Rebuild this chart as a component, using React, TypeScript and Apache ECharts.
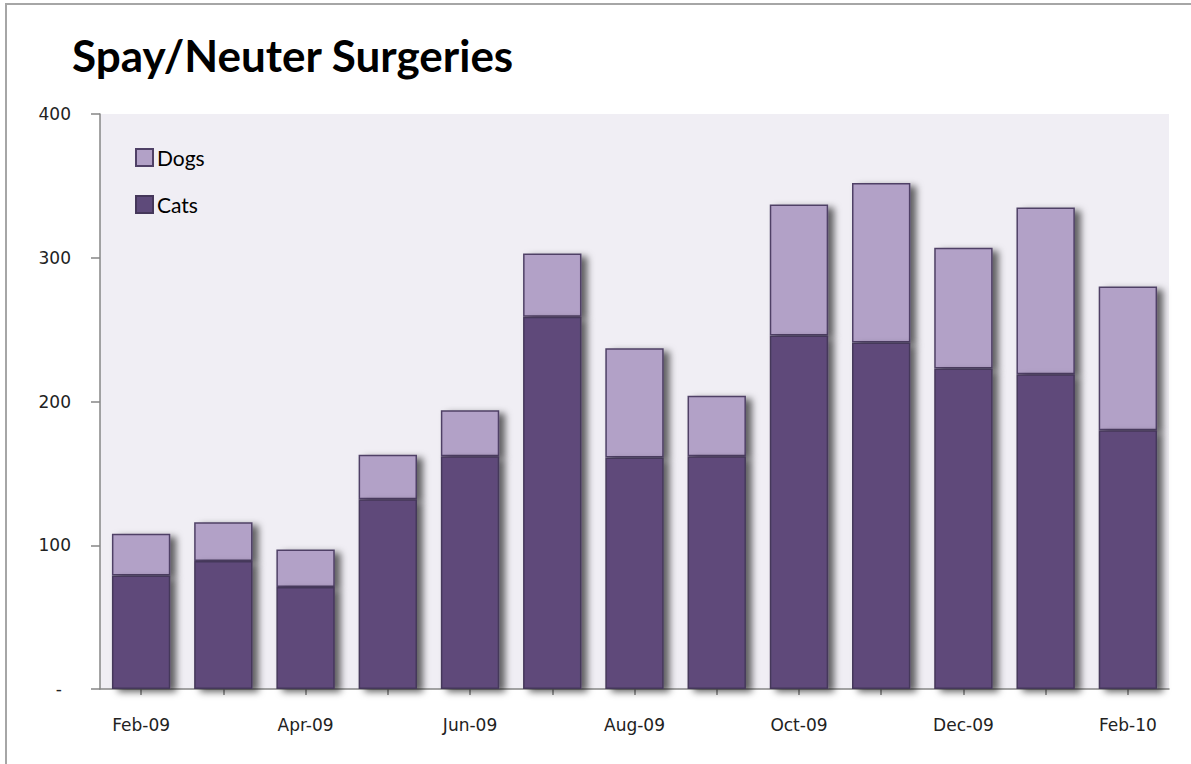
import React, { useEffect, useRef } from "react";
import * as echarts from "echarts";

const months = ["Feb-09", "Mar-09", "Apr-09", "May-09", "Jun-09", "Jul-09", "Aug-09", "Sep-09", "Oct-09", "Nov-09", "Dec-09", "Jan-10", "Feb-10"];
const cats = [79, 89, 71, 132, 162, 259, 161, 162, 246, 241, 223, 219, 180];
const dogs = [29, 27, 26, 31, 32, 44, 76, 42, 91, 111, 84, 116, 100];
const yTicks = [0, 100, 200, 300, 400];

export default function App() {
  const ref = useRef<HTMLDivElement>(null);
  useEffect(() => {
    if (!ref.current) return;
    const chart = echarts.init(ref.current, undefined, { renderer: "svg" });
    const shadow = {
      shadowColor: "rgba(0,0,0,0.6)",
      shadowBlur: 7,
      shadowOffsetX: 6,
      shadowOffsetY: 3,
    };
    chart.setOption({
      animation: false,
      backgroundColor: "#ffffff",
      title: {
        text: "Spay/Neuter Surgeries",
        left: 72,
        top: 33,
        padding: 0,
        textStyle: { fontFamily: "Lato", fontWeight: "bold", fontSize: 44, color: "#000" },
      },
      legend: {
        data: ["Dogs", "Cats"],
        orient: "vertical",
        left: 135,
        top: 147,
        padding: 0,
        itemWidth: 17,
        itemHeight: 17,
        itemGap: 26,
        icon: "rect",
        textStyle: { fontFamily: "Lato", fontSize: 21, color: "#000", padding: [0, 0, 0, -1] },
      },
      grid: {
        left: 100,
        right: 22,
        top: 114,
        bottom: 75,
        show: true,
        backgroundColor: "#f0eef4",
        borderWidth: 0,
      },
      graphic: [
        {
          type: "rect",
          shape: { x: 6, y: 4, width: 1400, height: 1000 },
          style: { fill: "none", stroke: "#a6a6a6", lineWidth: 2 },
          silent: true,
        },
      ],
      xAxis: {
        type: "category",
        data: months,
        axisLine: { lineStyle: { color: "#868686", width: 1.5 } },
        axisTick: { show: true, alignWithLabel: true, interval: 0, length: 6, lineStyle: { color: "#868686", width: 1.5 } },
        axisLabel: {
          interval: 1,
          margin: 27,
          fontFamily: "DejaVu Sans",
          fontSize: 17,
          color: "#222",
        },
      },
      yAxis: {
        type: "value",
        min: yTicks[0],
        max: yTicks[yTicks.length - 1],
        interval: 100,
        splitLine: { show: false },
        axisLine: { show: true, lineStyle: { color: "#868686", width: 1.5 } },
        axisTick: { show: true, length: 9, lineStyle: { color: "#868686", width: 1.5 } },
        axisLabel: {
          margin: 29,
          fontFamily: "DejaVu Sans",
          fontSize: 17,
          color: "#222",
          formatter: (v: number) => (v === 0 ? "{d|-}" : String(v)),
          rich: { d: { padding: [0, 9, 0, 0], fontFamily: "DejaVu Sans", fontSize: 17, color: "#222" } },
        },
      },
      series: [
        {
          name: "Cats",
          type: "bar",
          stack: "total",
          data: cats,
          barCategoryGap: "29%",
          z: 3,
          itemStyle: { color: "#5e4a7a", borderColor: "#45375a", borderWidth: 1.5, ...shadow },
        },
        {
          name: "Dogs",
          type: "bar",
          stack: "total",
          data: dogs,
          barCategoryGap: "29%",
          z: 2,
          itemStyle: { color: "#b2a1c7", borderColor: "#4f4066", borderWidth: 1.5, ...shadow },
        },
      ],
    });
    return () => chart.dispose();
  }, []);
  return (
    <div
      ref={ref}
      style={{ position: "absolute", left: 0, top: 0, width: 1191, height: 764 }}
    />
  );
}
